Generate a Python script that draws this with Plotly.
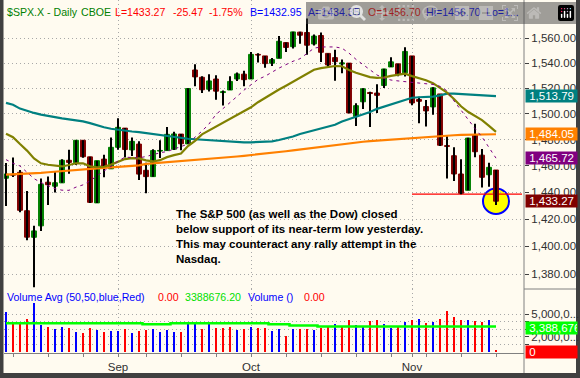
import math
import datetime as dt
import plotly.graph_objects as go

# ------------------------------------------------------------------ data
dates = [
    "2007-08-10", "2007-08-13", "2007-08-14", "2007-08-15", "2007-08-16", "2007-08-17",
    "2007-08-20", "2007-08-21", "2007-08-22", "2007-08-23", "2007-08-24", "2007-08-27",
    "2007-08-28", "2007-08-29", "2007-08-30", "2007-08-31",
    "2007-09-04", "2007-09-05", "2007-09-06", "2007-09-07", "2007-09-10", "2007-09-11",
    "2007-09-12", "2007-09-13", "2007-09-14", "2007-09-17", "2007-09-18", "2007-09-19",
    "2007-09-20", "2007-09-21", "2007-09-24", "2007-09-25", "2007-09-26", "2007-09-27",
    "2007-09-28",
    "2007-10-01", "2007-10-02", "2007-10-03", "2007-10-04", "2007-10-05", "2007-10-08",
    "2007-10-09", "2007-10-10", "2007-10-11", "2007-10-12", "2007-10-15", "2007-10-16",
    "2007-10-17", "2007-10-18", "2007-10-19", "2007-10-22", "2007-10-23", "2007-10-24",
    "2007-10-25", "2007-10-26", "2007-10-29", "2007-10-30", "2007-10-31",
    "2007-11-01", "2007-11-02", "2007-11-05", "2007-11-06", "2007-11-07", "2007-11-08",
    "2007-11-09", "2007-11-12", "2007-11-13", "2007-11-14", "2007-11-15", "2007-11-16",
    "2007-11-19",
]

opens = [
    1450.5, 1453.4, 1455.0, 1426.2, 1406.6, 1415.0, 1447.5, 1444.5, 1447.0, 1464.1,
    1462.3, 1479.4, 1466.7, 1432.0, 1465.0, 1457.6, 1474.0, 1488.8, 1472.0, 1476.5,
    1456.5, 1451.7, 1471.1, 1471.5, 1472.5, 1484.2, 1476.6, 1534.5, 1528.7, 1519.2,
    1527.3, 1516.6, 1518.6, 1527.3, 1531.2, 1527.3, 1547.0, 1545.8, 1539.9, 1543.8,
    1556.5, 1553.2, 1565.0, 1564.7, 1555.4, 1562.3, 1547.8, 1544.4, 1539.3, 1540.0,
    1497.8, 1509.3, 1516.6, 1516.2, 1522.2, 1536.9, 1539.4, 1532.2, 1545.8, 1511.1,
    1505.6, 1505.3, 1515.5, 1475.3, 1467.6, 1453.7, 1441.4, 1483.4, 1468.0, 1453.1,
    1456.70,
]
highs = [
    1462.0, 1466.3, 1456.7, 1440.8, 1415.1, 1450.3, 1451.8, 1455.3, 1464.9, 1472.1,
    1479.4, 1479.4, 1466.7, 1463.8, 1468.4, 1481.5, 1496.4, 1488.8, 1481.5, 1478.6,
    1462.3, 1472.5, 1479.5, 1489.6, 1486.0, 1484.2, 1519.9, 1539.0, 1529.6, 1531.2,
    1530.4, 1518.3, 1529.5, 1532.5, 1533.9, 1549.0, 1548.0, 1545.8, 1544.0, 1561.9,
    1556.5, 1565.3, 1565.4, 1576.1, 1563.0, 1564.7, 1547.8, 1550.7, 1542.8, 1540.0,
    1508.1, 1520.0, 1517.2, 1523.2, 1535.5, 1544.7, 1539.4, 1552.8, 1545.8, 1513.2,
    1510.8, 1520.8, 1515.5, 1482.5, 1474.1, 1464.9, 1481.4, 1492.1, 1472.7, 1462.2,
    1456.70,
]
lows = [
    1429.7, 1451.5, 1425.1, 1404.4, 1370.6, 1411.3, 1430.5, 1439.8, 1447.0, 1453.9,
    1460.5, 1466.0, 1432.0, 1432.0, 1451.3, 1457.6, 1472.2, 1466.3, 1467.4, 1449.1,
    1439.3, 1451.7, 1465.8, 1471.5, 1472.0, 1471.8, 1476.6, 1521.5, 1516.2, 1517.5,
    1511.0, 1506.5, 1518.6, 1525.8, 1521.5, 1527.3, 1540.4, 1536.3, 1537.6, 1543.8,
    1549.0, 1551.8, 1555.5, 1546.7, 1554.1, 1540.8, 1536.3, 1526.0, 1531.8, 1500.3,
    1490.4, 1503.6, 1489.6, 1500.5, 1520.2, 1536.9, 1529.6, 1529.4, 1506.7, 1492.5,
    1490.0, 1499.1, 1475.0, 1450.3, 1448.5, 1438.5, 1441.4, 1466.5, 1443.5, 1444.0,
    1430.4,
]
closes = [
    1453.6, 1452.9, 1426.5, 1406.7, 1411.3, 1445.9, 1445.6, 1447.1, 1464.1, 1462.5,
    1479.4, 1466.8, 1432.4, 1463.8, 1458.5, 1474.0, 1489.4, 1472.3, 1478.6, 1453.6,
    1451.7, 1471.5, 1471.6, 1484.0, 1484.3, 1476.7, 1519.8, 1529.0, 1518.8, 1525.8,
    1517.7, 1517.2, 1525.4, 1531.4, 1526.8, 1547.0, 1546.6, 1539.6, 1542.8, 1557.6,
    1552.6, 1565.2, 1562.5, 1554.4, 1561.8, 1548.7, 1538.5, 1541.2, 1540.1, 1500.6,
    1506.3, 1519.6, 1515.9, 1514.4, 1535.3, 1541.0, 1531.0, 1549.4, 1508.4, 1509.7,
    1502.2, 1520.3, 1475.6, 1474.8, 1453.7, 1439.2, 1481.1, 1470.6, 1451.2, 1458.74,
    1433.27,
]

volume = [
    5350000, 3800000, 3880000, 4380000, 6480000, 3570000, 3310000, 3040000, 3310000, 3170000,
    2640000, 2540000, 3170000, 2900000, 2640000, 2810000, 2810000, 3040000, 2540000, 2810000,
    2900000, 3040000, 2680000, 2900000, 2680000, 2680000, 3800000, 3880000, 3040000, 3750000,
    3210000, 3210000, 3350000, 2900000, 3040000, 3310000, 3210000, 3170000, 2810000, 3040000,
    2100000, 3040000, 3040000, 3040000, 2900000, 3210000, 3310000, 3710000, 3310000, 4240000,
    3570000, 3310000, 4110000, 4240000, 3710000, 3210000, 3310000, 3980000, 4240000, 4380000,
    3880000, 3980000, 4380000, 5450000, 4650000, 4240000, 4240000, 4110000, 3980000, 4240000,
    200000,
]
volume_direction = [
    "up", "down", "down", "down", "up", "up", "down", "up", "up", "down",
    "up", "down", "down", "up", "down", "up", "up", "down", "up", "down",
    "down", "up", "up", "up", "up", "down", "up", "up", "down", "up",
    "down", "down", "down", "up", "down", "up", "down", "down", "up", "up",
    "down", "up", "down", "down", "up", "down", "down", "up", "down", "down",
    "up", "up", "down", "down", "up", "up", "down", "up", "down", "up",
    "down", "up", "down", "down", "down", "down", "up", "down", "down", "up",
    "down",
]
volume_avg = (
    [3800000] * 20 + [3670000] * 4 + [3800000] * 14 + [3670000] * 3 + [3500000] * 4 + [3388676.2] * 26
)

ma10 = [
    1464.6, 1461.8, 1459.8, 1455.0, 1450.2, 1447.2, 1444.6, 1442.6, 1441.5, 1441.4,
    1443.8, 1445.5, 1448.5, 1452.5, 1456.0, 1459.5, 1463.5, 1466.5, 1466.3, 1465.9,
    1467.0, 1468.5, 1469.8, 1470.8, 1472.5, 1474.2, 1476.5, 1481.8, 1486.5, 1492.0,
    1499.5, 1504.0, 1508.5, 1513.5, 1518.5, 1523.0, 1527.0, 1529.5, 1533.0, 1536.0,
    1538.8, 1541.5, 1543.5, 1548.0, 1552.0, 1553.0, 1553.3, 1553.0, 1552.0, 1548.0,
    1543.0, 1539.0, 1534.6, 1530.5, 1528.0, 1526.5, 1525.8, 1525.2, 1524.5, 1524.0,
    1523.6, 1523.0, 1521.5, 1518.0, 1510.0, 1502.5, 1495.5, 1488.5, 1482.0, 1474.0,
    1465.72,
]
ma20 = [
    1484.4, 1481.8, 1476.5, 1471.5, 1465.5, 1461.8, 1460.7, 1459.9, 1459.4, 1460.5,
    1461.8, 1461.8, 1459.5, 1458.8, 1459.2, 1460.8, 1463.0, 1465.0, 1465.8, 1465.5,
    1464.0, 1463.2, 1464.2, 1466.5, 1468.0, 1469.2, 1475.0, 1479.0, 1484.0, 1487.0,
    1489.5, 1492.5, 1495.5, 1498.5, 1501.5, 1505.0, 1509.0, 1512.5, 1515.5, 1519.0,
    1522.0, 1525.0, 1528.5, 1531.5, 1534.7, 1536.0, 1537.0, 1537.7, 1537.5, 1534.5,
    1532.3, 1530.5, 1528.8, 1528.2, 1528.5, 1529.8, 1530.8, 1531.5, 1529.6, 1528.0,
    1526.3, 1524.0, 1520.5, 1516.5, 1511.5, 1505.8, 1501.5, 1498.5, 1495.0, 1490.5,
    1485.9,
]
ma50 = [
    1508.5, 1507.0, 1504.0, 1502.2, 1500.6, 1499.3, 1498.2, 1497.1, 1496.3, 1495.6,
    1495.0, 1494.0, 1492.7, 1490.9, 1489.5, 1488.3, 1487.5, 1486.7, 1486.2, 1485.7,
    1484.9, 1484.2, 1483.7, 1482.9, 1482.1, 1481.2, 1480.6, 1480.2, 1479.8, 1479.3,
    1478.9, 1478.5, 1478.1, 1477.9, 1477.8, 1477.8, 1477.9, 1478.1, 1478.6, 1479.6,
    1480.8, 1482.3, 1484.3, 1485.8, 1487.2, 1488.6, 1489.8, 1491.4, 1494.0, 1495.9,
    1497.2, 1499.2, 1501.3, 1503.8, 1505.6, 1506.9, 1508.9, 1510.9, 1512.5, 1512.9,
    1513.1, 1513.4, 1514.4, 1515.8, 1515.8, 1515.4, 1515.0, 1514.6, 1514.4, 1514.1,
    1513.79,
]
ma200 = [
    1453.2, 1453.4, 1453.6, 1453.8, 1454.0, 1454.5, 1455.0, 1455.5, 1456.0, 1456.5,
    1456.9, 1457.3, 1457.6, 1458.0, 1458.3, 1458.6, 1459.0, 1459.4, 1459.8, 1460.2,
    1461.3, 1461.7, 1462.1, 1462.5, 1462.9, 1463.3, 1463.8, 1464.2, 1464.6, 1465.0,
    1465.5, 1466.0, 1466.5, 1467.0, 1467.5, 1468.0, 1468.5, 1469.0, 1469.6, 1470.3,
    1471.0, 1471.7, 1472.4, 1473.1, 1473.8, 1474.5, 1475.2, 1475.9, 1476.5, 1477.1,
    1477.7, 1478.3, 1478.8, 1479.2, 1479.6, 1480.0, 1480.4, 1480.9, 1481.3, 1481.7,
    1482.2, 1482.6, 1482.9, 1483.1, 1483.3, 1483.5, 1483.7, 1483.8, 1483.9, 1484.0,
    1484.05,
]

price_ticks = [1380, 1400, 1420, 1440, 1460, 1480, 1500, 1520, 1540, 1560]
volume_grid = [1000000, 2000000, 3000000, 4000000, 5000000]
volume_labels = {2000000: "2,000,0...", 5000000: "5,000,0..."}
month_names = {9: "Sep", 10: "Oct", 11: "Nov"}

symbol, period, exchange = "$SPX.X", "Daily", "CBOE"
bid, ask = 1432.95, 1434.35
support_level = 1438.53
support_from = "2007-11-01"
note_lines = [
    "The S&amp;P 500 (as well as the Dow) closed",
    "below support of its near-term low yesterday.",
    "This may counteract any rally attempt in the",
    "Nasdaq.",
]

# ------------------------------------------------------------------ layout geometry (pixels)
W, H = 580, 378
FONT = "Liberation Sans, Arial, sans-serif"
CREAM = "#FFFBF0"
BORDER = "#404040"
AXIS_GRAY = "#808080"
GRID = "#A8A8A8"
GREEN_C, RED_C = "#008000", "#800000"

PL, PR = 4.0, 524.0           # plot area left/right
FIRST_X, STEP = 6.0, 7.0      # pixel of first bar, pixels per bar
PRICE_TOP, PRICE_BOT = 0.0, 289.0
VOL_TOP, VOL_BOT = 289.0, 352.7
PX_PER_DECADE = 4427.0
Y1560 = 38.3


def fx(p):
    return p / W


def fy(p):
    return 1 - p / H


n = len(dates)
xi = list(range(n))
x_range = [(PL - FIRST_X) / STEP, (PR - FIRST_X) / STEP]
log_top = math.log10(1560) + (Y1560 - PRICE_TOP) / PX_PER_DECADE
log_bot = math.log10(1560) - (PRICE_BOT - Y1560) / PX_PER_DECADE
VPX_PER_M = 7.47
vol_zero_px = 351.7
vol_range = [-(VOL_BOT - vol_zero_px) / VPX_PER_M * 1e6, (vol_zero_px - VOL_TOP) / VPX_PER_M * 1e6]

dobj = [dt.date.fromisoformat(d) for d in dates]
month_idx = [i for i in range(1, n) if dobj[i].month != dobj[i - 1].month]
month_txt = [month_names[dobj[i].month] for i in month_idx]
week_idx = [i for i in range(1, n) if dobj[i].isocalendar()[1] != dobj[i - 1].isocalendar()[1]]

fig = go.Figure()

# wicks
wx, wy = [], []
for i in xi:
    wx += [i, i, None]
    wy += [lows[i], highs[i], None]
fig.add_trace(go.Scatter(x=wx, y=wy, mode="lines", line=dict(color="black", width=2),
                         hoverinfo="skip", showlegend=False, xaxis="x", yaxis="y"))

# bodies
body_hi = [max(o, c) for o, c in zip(opens, closes)]
body_lo = [min(o, c) for o, c in zip(opens, closes)]
fig.add_trace(go.Candlestick(
    x=xi, open=opens, high=body_hi, low=body_lo, close=closes,
    increasing=dict(fillcolor=GREEN_C, line=dict(color=GREEN_C, width=1)),
    decreasing=dict(fillcolor=RED_C, line=dict(color=RED_C, width=1)),
    whiskerwidth=0, showlegend=False, xaxis="x", yaxis="y"))

# moving averages
fig.add_trace(go.Scatter(x=xi, y=ma200, mode="lines", line=dict(color="#FF8000", width=2.2),
                         showlegend=False, xaxis="x", yaxis="y"))
fig.add_trace(go.Scatter(x=xi, y=ma50, mode="lines", line=dict(color="#008080", width=2.2),
                         showlegend=False, xaxis="x", yaxis="y"))
fig.add_trace(go.Scatter(x=xi, y=ma20, mode="lines", line=dict(color="#808000", width=2.2),
                         showlegend=False, xaxis="x", yaxis="y"))
fig.add_trace(go.Scatter(x=xi, y=ma10, mode="lines", line=dict(color="#800080", width=1, dash="3px,4px"),
                         showlegend=False, xaxis="x", yaxis="y"))

# volume
vcol = ["#0000FF" if d == "up" else "#FF0000" for d in volume_direction]
fig.add_trace(go.Bar(x=xi, y=volume, marker=dict(color=vcol, line=dict(width=0)), width=0.3,
                     showlegend=False, xaxis="x2", yaxis="y2"))
fig.add_trace(go.Scatter(x=xi, y=volume_avg, mode="lines", line=dict(color="#00FF00", width=2.5, shape="hvh"),
                         showlegend=False, xaxis="x2", yaxis="y2"))

shapes = []
# cream canvas inside dark border
shapes.append(dict(type="rect", xref="paper", yref="paper", x0=fx(3.5), x1=fx(576), y0=fy(373), y1=1,
                   fillcolor=CREAM, line=dict(width=0), layer="below"))
# highlight circle around last bar (shape coordinates on a log axis are data values)
last = n - 1
rx_bars = 13.0 / STEP
ry_dec = 12.8 / PX_PER_DECADE
cy = math.log10(closes[last])
shapes.append(dict(type="circle", xref="x", yref="y", x0=last - rx_bars, x1=last + rx_bars,
                   y0=10 ** (cy - ry_dec), y1=10 ** (cy + ry_dec), fillcolor="#FFFF00",
                   line=dict(color="#0000FF", width=2), layer="below"))
# support line
shapes.append(dict(type="line", xref="x", yref="y", x0=dates.index(support_from), x1=(522 - FIRST_X) / STEP,
                   y0=support_level, y1=support_level,
                   line=dict(color="#FF0000", width=1.4), layer="below"))
# right axis line and panel separator
shapes.append(dict(type="line", xref="paper", yref="paper", x0=fx(PR), x1=fx(PR), y0=fy(373), y1=1,
                   line=dict(color=AXIS_GRAY, width=1)))
shapes.append(dict(type="line", xref="paper", yref="paper", x0=fx(PR), x1=fx(576), y0=fy(VOL_TOP), y1=fy(VOL_TOP),
                   line=dict(color=AXIS_GRAY, width=1)))

ann = []


def text_at(x, y, s, color, size=11, bold=False):
    ann.append(dict(xref="paper", yref="paper", x=fx(x), y=fy(y), xanchor="left", yanchor="middle",
                    text=s, showarrow=False,
                    font=dict(family=FONT, size=size, color=color, weight="bold" if bold else "normal")))


# header
chg = closes[-1] - closes[-2]
pct = chg / closes[-2] * 100
header = [
    (4.5, f"{symbol} - {period}", "#008000"),
    (79.3, exchange, "#008000"),
    (113.3, f"L={closes[-1]:.2f}", "#FF0000"),
    (170.7, f"{chg:.2f}", "#FF0000"),
    (207.3, f"{pct:.2f}%", "#FF0000"),
    (248.3, f"B={bid:.2f}", "#0000FF"),
    (306.0, f"A={ask:.2f}", "#0000FF"),
    (366.0, f"O={opens[-1]:.2f}", "#FF0000"),
    (424.3, f"Hi={highs[-1]:.2f}", "#0000FF"),
    (484.3, "Lo=1...", "#0000FF"),
]
for x, s, c in header:
    text_at(x, 11.8, s, c, size=10.6)

# volume legend row
vleg = [
    (4.7, "Volume Avg (50,50,blue,Red)", "#0000FF"),
    (156.0, "0.00", "#FF0000"),
    (183.3, f"{volume_avg[-1]:.2f}", "#00E000"),
    (246.0, "Volume ()", "#0000FF"),
    (301.7, "0.00", "#FF0000"),
]
for x, s, c in vleg:
    text_at(x, 297.3, s, c, size=10.6)

# commentary
for k, line in enumerate(note_lines):
    text_at(173.5, 214.0 + k * 15.1, line, "black", size=11.5, bold=True)


# value boxes on the right axis (annotation positions on a log axis are log10 values)
def value_box(yref, yval, bg, s):
    ann.append(dict(xref="paper", yref=yref, x=fx(PR + 0.5), y=yval, xanchor="left", yanchor="middle",
                    text="&nbsp;" + s, showarrow=False, bgcolor=bg, width=51, align="left", borderpad=0,
                    font=dict(family=FONT, size=11.5, color="white")))


value_box("y", math.log10(ma50[-1]), "#008080", f"{ma50[-1]:,.2f}")
value_box("y", math.log10(ma200[-1]), "#FF8000", f"{ma200[-1]:,.2f}")
value_box("y", math.log10(ma10[-1]), "#800080", f"{ma10[-1]:,.2f}")
value_box("y", math.log10(closes[-1]), "#800000", f"{closes[-1]:,.2f}")
value_box("y2", volume_avg[-1] - 250000, "#00FF00", f"{volume_avg[-1]:,.0f}")
value_box("y2", 0, "#FF0000", "0")

grid_kw = dict(showgrid=True, gridcolor=GRID, griddash="1px,3px", gridwidth=1)

fig.update_layout(
    width=W, height=H, autosize=False,
    margin=dict(l=0, r=0, t=0, b=0),
    paper_bgcolor=BORDER, plot_bgcolor=CREAM,
    showlegend=False, hovermode=False,
    boxgap=0.3, boxgroupgap=0.0,
    bargap=0,
    shapes=shapes, annotations=ann,
    xaxis=dict(domain=[fx(PL), fx(PR)], range=x_range, anchor="y",
               tickmode="array", tickvals=month_idx, showticklabels=False, ticks="",
               zeroline=False, showline=False, rangeslider=dict(visible=False), **grid_kw),
    yaxis=dict(domain=[fy(PRICE_BOT), fy(PRICE_TOP)], type="log", range=[log_bot, log_top],
               anchor="x", side="right", tickmode="array", tickvals=price_ticks,
               ticktext=[f"{v:,.2f}" for v in price_ticks],
               ticks="outside", ticklen=4, tickcolor="#404040", tickwidth=1,
               tickfont=dict(family=FONT, size=11.5, color="#303030"),
               zeroline=False, showline=False, **grid_kw),
    xaxis2=dict(domain=[fx(PL), fx(PR)], range=x_range, anchor="y2",
                tickmode="array", tickvals=month_idx, ticktext=month_txt,
                ticks="outside", ticklen=3, tickcolor=AXIS_GRAY,
                tickfont=dict(family=FONT, size=11.5, color="#303030"),
                minor=dict(tickmode="array", tickvals=week_idx, ticks="outside", ticklen=3,
                           tickcolor=AXIS_GRAY, showgrid=False),
                showline=True, linecolor=AXIS_GRAY, linewidth=1, zeroline=False, **grid_kw),
    yaxis2=dict(domain=[fy(VOL_BOT), fy(VOL_TOP)], range=vol_range, anchor="x2", side="right",
                tickmode="array", tickvals=volume_grid,
                ticktext=[volume_labels.get(v, "") for v in volume_grid],
                ticks="outside", ticklen=4, tickcolor="#404040",
                tickfont=dict(family=FONT, size=11.5, color="#303030"),
                zeroline=False, showline=False, **grid_kw),
)

fig.write_html("out.html", post_script="document.body.style.margin='0';document.body.style.overflow='hidden';")
